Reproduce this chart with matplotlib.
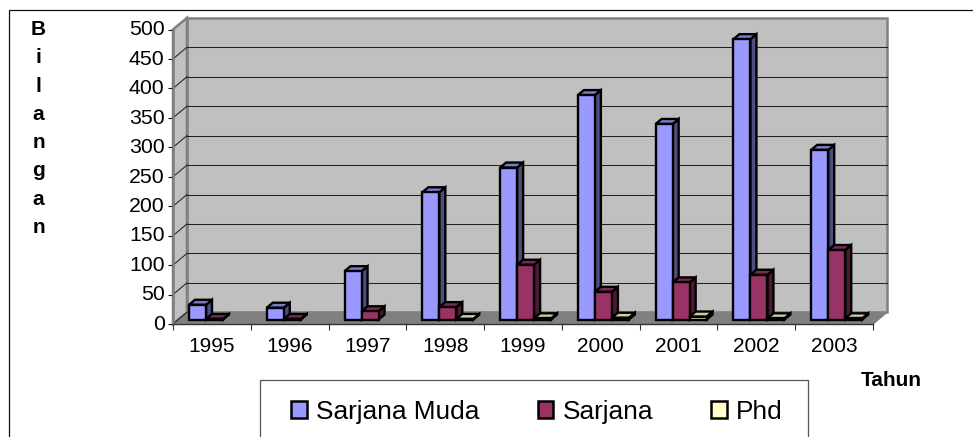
import numpy as np
import matplotlib
matplotlib.use("Agg")
import matplotlib.pyplot as plt
from matplotlib.patches import Polygon, Rectangle, Patch
from matplotlib.transforms import ScaledTranslation

plt.rcParams['font.family'] = ['Liberation Sans', 'DejaVu Sans']

years = ['1995', '1996', '1997', '1998', '1999', '2000', '2001', '2002', '2003']
sarjana_muda = [25, 20, 82, 216, 258, 381, 332, 476, 288]
sarjana = [1, 1, 14, 21, 93, 47, 63, 76, 118]
phd = [0, 0, 0, 1, 2, 3, 5, 2, 2]
y_ticks = [0, 50, 100, 150, 200, 250, 300, 350, 400, 450, 500]

W, H = 973, 437
fig = plt.figure(figsize=(W / 100, H / 100), dpi=100)

# front plane of the 3d box, in pixels
left, right, top, bottom = 173, 873, 29.5, 324
ax = fig.add_axes([left / W, 1 - bottom / H, (right - left) / W, (bottom - top) / H])
ax.set_xlim(0, 9)
ax.set_ylim(0, 500)
ax.patch.set_visible(False)

px_x = 9 / (right - left)
px_y = 500 / (bottom - top)
depth_x = 14 * px_x
depth_y = 11.7 * px_y


def face(points, fc, ec='black', lw=1.7, z=2):
    ax.add_patch(Polygon(points, closed=True, facecolor=fc, edgecolor=ec, linewidth=lw,
                         joinstyle='miter', clip_on=False, zorder=z))


# walls and floor
face([(depth_x, depth_y), (9 + depth_x, depth_y), (9 + depth_x, 500 + depth_y), (depth_x, 500 + depth_y)],
     '#c0c0c0', '#808080', 1.8, 1)
face([(0, 0), (depth_x, depth_y), (depth_x, 500 + depth_y), (0, 500)], '#c0c0c0', '#808080', 1.8, 1)
face([(0, 0), (9, 0), (9 + depth_x, depth_y), (depth_x, depth_y)], '#808080', '#808080', 0.8, 1.2)

for v in y_ticks[1:-1]:
    ax.plot([depth_x, 9 + depth_x], [v + depth_y, v + depth_y], color='#222222', lw=0.75, clip_on=False, zorder=1.5)
for v in y_ticks[:-1]:
    ax.plot([0, depth_x], [v, v + depth_y], color='#222222', lw=0.75, clip_on=False, zorder=1.5)
ax.plot([9, 9 + depth_x], [0, depth_y], color='#808080', lw=0.8, clip_on=False, zorder=1.5)

# bars
bar_w = 17 * px_x
bar_dx = 6 * px_x
bar_dy = 5 * px_y
base = 4.5 * px_y
start = 16 * px_x
series = [
    (sarjana_muda, '#9999ff', '#7a7acc', '#4d4d80'),
    (sarjana, '#993366', '#7a2952', '#4d1a33'),
    (phd, '#ffffcc', '#cccca3', '#808066'),
]
z = 3
for i in range(len(years)):
    for k, (vals, front, roof, side) in enumerate(series):
        if vals[i] == 0:
            continue
        x0 = i + start + k * bar_w
        x1 = x0 + bar_w
        y0 = base
        y1 = base + vals[i]
        face([(x1, y0), (x1 + bar_dx, y0 + bar_dy), (x1 + bar_dx, y1 + bar_dy), (x1, y1)], side, z=z)
        face([(x0, y1), (x1, y1), (x1 + bar_dx, y1 + bar_dy), (x0 + bar_dx, y1 + bar_dy)], roof, z=z)
        face([(x0, y0), (x1, y0), (x1, y1), (x0, y1)], front, z=z)
        z += 1

# axes
for s in ['top', 'right']:
    ax.spines[s].set_visible(False)
ax.spines['left'].set_color('#808080')
ax.spines['left'].set_linewidth(1.8)
ax.spines['bottom'].set_color('#333333')
ax.spines['bottom'].set_linewidth(1.0)
ax.set_yticks(y_ticks)
ax.set_xticks(np.arange(len(years) + 1))
ax.set_xticklabels([])
ax.set_xticks(np.arange(len(years)) + 0.5, labels=years, minor=True)
ax.tick_params(axis='x', which='major', length=4, width=0.8, color='#333333')
ax.tick_params(axis='x', which='minor', length=0, labelsize=15, pad=9)
ax.tick_params(axis='y', length=3.5, width=0.8, color='#111111', labelsize=15.3, pad=2.6)
shift_up = ScaledTranslation(0, 1.2 / 72, fig.dpi_scale_trans)
for lab in ax.get_yticklabels():
    lab.set_transform(lab.get_transform() + shift_up)

# axis titles
fig.text(38.5 / W, 1 - 128.5 / H, 'B\ni\nl\na\nn\ng\na\nn', ha='center', va='center',
         fontweight='bold', fontsize=15, linespacing=1.62)
fig.text(891 / W, 1 - 381 / H, 'Tahun', ha='center', va='center', fontweight='bold', fontsize=15)

# outer frame runs off the right and bottom of the picture
fig.add_artist(Rectangle((9 / W, -0.1), 1.1, 1.1 - 10.5 / H, transform=fig.transFigure,
                         facecolor='none', edgecolor='#111111', linewidth=0.9, clip_on=False))

# legend box, also cut by the bottom edge
fig.add_artist(Rectangle((260 / W, -0.1), 548 / W, 0.1 + 1 - 380 / H, transform=fig.transFigure,
                         facecolor='white', edgecolor='#555555', linewidth=0.9))
handles = [Patch(facecolor=s[1], edgecolor='black', linewidth=1.8) for s in series]
leg = fig.legend(handles, ['Sarjana Muda', 'Sarjana', 'Phd'], ncol=3, frameon=False, fontsize=18.9,
                 loc='center left', bbox_to_anchor=(291 / W, 1 - 412 / H), borderpad=0, borderaxespad=0,
                 handlelength=0.6, handleheight=0.6, handletextpad=0.35, columnspacing=2.22)
leg.set_zorder(10)

fig.savefig('out.png', dpi=100)
